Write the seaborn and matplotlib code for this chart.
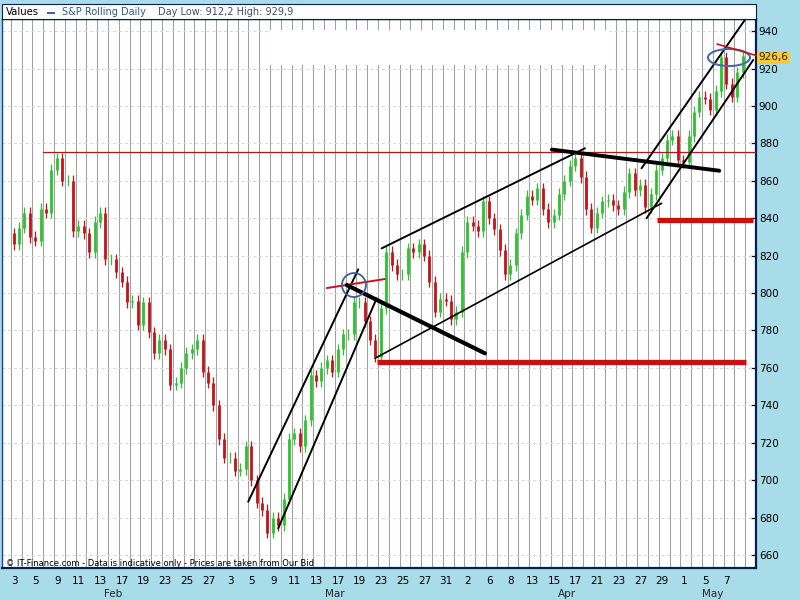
import matplotlib
matplotlib.use("Agg")
import matplotlib.pyplot as plt
from matplotlib.patches import Ellipse, Rectangle
import numpy as np
import pandas as pd
import seaborn as sns

# S&P rolling daily, half-day closes (Feb 3 -> May 8)
closes = [826, 835, 843, 830, 828, 845, 843, 866, 872, 860,
          860, 833, 836, 832, 822, 838, 843, 818, 818, 811,
          806, 795, 796, 783, 795, 779, 768, 775, 770, 751,
          752, 760, 768, 770, 775, 758, 752, 740, 722, 712,
          712, 705, 706, 718, 700, 688, 684, 672, 680, 676,
          690, 722, 725, 718, 732, 756, 753, 760, 764, 758,
          770, 778, 778, 795, 795, 785, 775, 766, 792, 822,
          815, 810, 810, 824, 822, 826, 820, 806, 790, 797,
          796, 786, 790, 822, 838, 836, 833, 849, 840, 834,
          823, 810, 815, 832, 842, 852, 850, 856, 845, 838,
          842, 853, 860, 868, 872, 862, 845, 835, 843, 849,
          850, 847, 845, 854, 864, 855, 858, 846, 853, 866,
          872, 882, 884, 871, 870, 884, 897, 905, 904, 898,
          908, 926, 912, 905, 918, 926.6]
first_open = 832

day_labels = ["3", "5", "9", "11", "13", "17", "19", "23", "25", "27",
              "3", "5", "9", "11", "13", "17", "19", "23", "25", "27", "31",
              "2", "6", "8", "13", "15", "17", "21", "23", "27", "29",
              "1", "5", "7"]
months = ["Feb", "Mar", "Apr", "May"]
month_start = [0, 19, 41, 62]
n_days = 68
price_ticks = list(range(660, 941, 20))

last_price = "926,6"
header_series = "S&P Rolling Daily"
header_info = "Day Low: 912,2 High: 929,9"
footer = "\u00a9 IT-Finance.com - Data is indicative only - Prices are taken from Our Bid"

sns.set_theme(style="white")
plt.rcParams["font.family"] = ["DejaVu Sans"]

df = pd.DataFrame({"close": closes})
df["x"] = 0.25 + 0.5 * np.arange(len(df))
df["open"] = df["close"].shift(1).fillna(first_open)
df["up"] = df["close"] >= df["open"]
df["top"] = df[["open", "close"]].max(axis=1)
df["bot"] = df[["open", "close"]].min(axis=1)

fig = plt.figure(figsize=(8, 6), dpi=100, facecolor="#a8dce9")
ax = fig.add_axes([2 / 800, 32 / 600, 754 / 800, 549 / 600])
ax.set_facecolor("white")
ax.set_xlim(-0.82, 69.0)
ax.set_ylim(653.05, 946.5)

# grid
for d in range(0, 69):
    ax.axvline(d, color="#a0a0a0", lw=0.75, zorder=1)
for p in price_ticks:
    ax.axhline(p, color="#d6d6d6", lw=0.7, ls=(0, (3, 3)), zorder=1)
ax.add_patch(Rectangle((24.0, 921.9), 31.5, 18.6, facecolor="white",
                       edgecolor="none", zorder=1.5))

# candles
green, red = "#2cc42c", "#c41418"
for up, col in [(True, green), (False, red)]:
    sub = df[df["up"] == up]
    ax.vlines(sub["x"], sub["bot"] - 3, sub["top"] + 3, color=col, lw=0.9, zorder=3)
    ax.vlines(sub["x"], sub["bot"], sub["top"], color=col, lw=2.0, zorder=3)

# hand drawn analysis
ax.plot([2.97, 69.0], [875.5, 875.5], color="#b01818", lw=0.9, zorder=4)
ax.plot([21.98, 32.17], [688.5, 812.7], color="black", lw=1.4, zorder=5)
ax.plot([24.76, 33.87], [674.3, 797.2], color="black", lw=1.4, zorder=5)
ax.plot([29.27, 34.64], [802.7, 807.5], color="#c01818", lw=1.4, zorder=5)
ax.add_patch(Ellipse((31.77, 804.3), 2.22, 12.8, fill=False,
                     edgecolor="#3d5f9c", lw=1.3, zorder=6))
ax.plot([31.1, 43.9], [804.3, 767.8], color="black", lw=3.0, zorder=5)
ax.plot([33.87, 68.1], [763.4, 763.4], color="#c81010", lw=3.8, zorder=5,
        solid_capstyle="butt")
ax.plot([34.33, 53.16], [823.9, 877.4], color="black", lw=1.4, zorder=5)
ax.plot([33.71, 60.26], [765.1, 848.0], color="black", lw=1.2, zorder=5)
ax.plot([50.1, 65.6], [876.7, 865.4], color="black", lw=2.8, zorder=5)
ax.plot([59.8, 68.7], [839.3, 839.3], color="#c81010", lw=3.8, zorder=5,
        solid_capstyle="butt")
ax.plot([58.4, 68.28], [866.7, 948.6], color="black", lw=1.4, zorder=5,
        clip_on=False)
ax.plot([58.87, 68.74], [840.0, 924.6], color="black", lw=1.4, zorder=5)
ax.add_patch(Ellipse((66.5, 925.9), 3.9, 9.1, fill=False,
                     edgecolor="#4a6aa8", lw=1.5, zorder=6))
ax.plot([65.4, 69.6], [933.1, 926.0], color="#c01818", lw=1.2, zorder=6,
        clip_on=False)

# axes look
for side in ["top", "left"]:
    ax.spines[side].set_color("#1d3f9a")
    ax.spines[side].set_linewidth(1.0)
for side in ["bottom", "right"]:
    ax.spines[side].set_color("#0b1f4f")
    ax.spines[side].set_linewidth(1.6)
ax.spines["top"].set_color("black")

ax.yaxis.tick_right()
ax.set_yticks(price_ticks)
ax.set_yticklabels([str(p) for p in price_ticks])
ax.tick_params(axis="y", direction="in", length=4, width=0.9, color="black",
               pad=2, labelsize=7.5, labelcolor="black")
ax.set_xticks([2 * k + 0.3 for k in range(len(day_labels))])
ax.set_xticklabels(day_labels)
ax.tick_params(axis="x", length=0, pad=6, labelsize=7.5, labelcolor="black")
month_end = month_start[1:] + [n_days]
for m, a, b in zip(months, month_start, month_end):
    ax.text((a + b) / 2, -0.047, m, transform=ax.get_xaxis_transform(),
            ha="center", va="center", fontsize=7.5)

ax.text(1.003, 926.1, last_price, transform=ax.get_yaxis_transform(),
        ha="left", va="center", fontsize=7.5, zorder=7, clip_on=False,
        bbox=dict(boxstyle="square,pad=0.15", facecolor="#f8c83c", edgecolor="none"))

# header strip and footer
fig.add_artist(Rectangle((2 / 800, 1 - 19 / 600), 754 / 800, 15 / 600,
                         transform=fig.transFigure, facecolor="white",
                         edgecolor="#0b1f4f", lw=0.8))
fig.text(6 / 800, 1 - 12 / 600, "Values", fontsize=7.3, va="center", color="black")
fig.add_artist(Rectangle((46.7 / 800, 1 - 14.3 / 600), 8.3 / 800, 2.8 / 600,
                         transform=fig.transFigure, facecolor="#3c64a0",
                         edgecolor="none"))
fig.text(62 / 800, 1 - 12 / 600, header_series, fontsize=7, va="center",
         color="#2f5a8f")
fig.text(158 / 800, 1 - 12 / 600, header_info, fontsize=7, va="center",
         color="#3d4f66")
fig.text(6 / 800, 1 - 564 / 600, footer, fontsize=6, va="center", color="black")

fig.savefig("out.png", dpi=100, facecolor=fig.get_facecolor())
